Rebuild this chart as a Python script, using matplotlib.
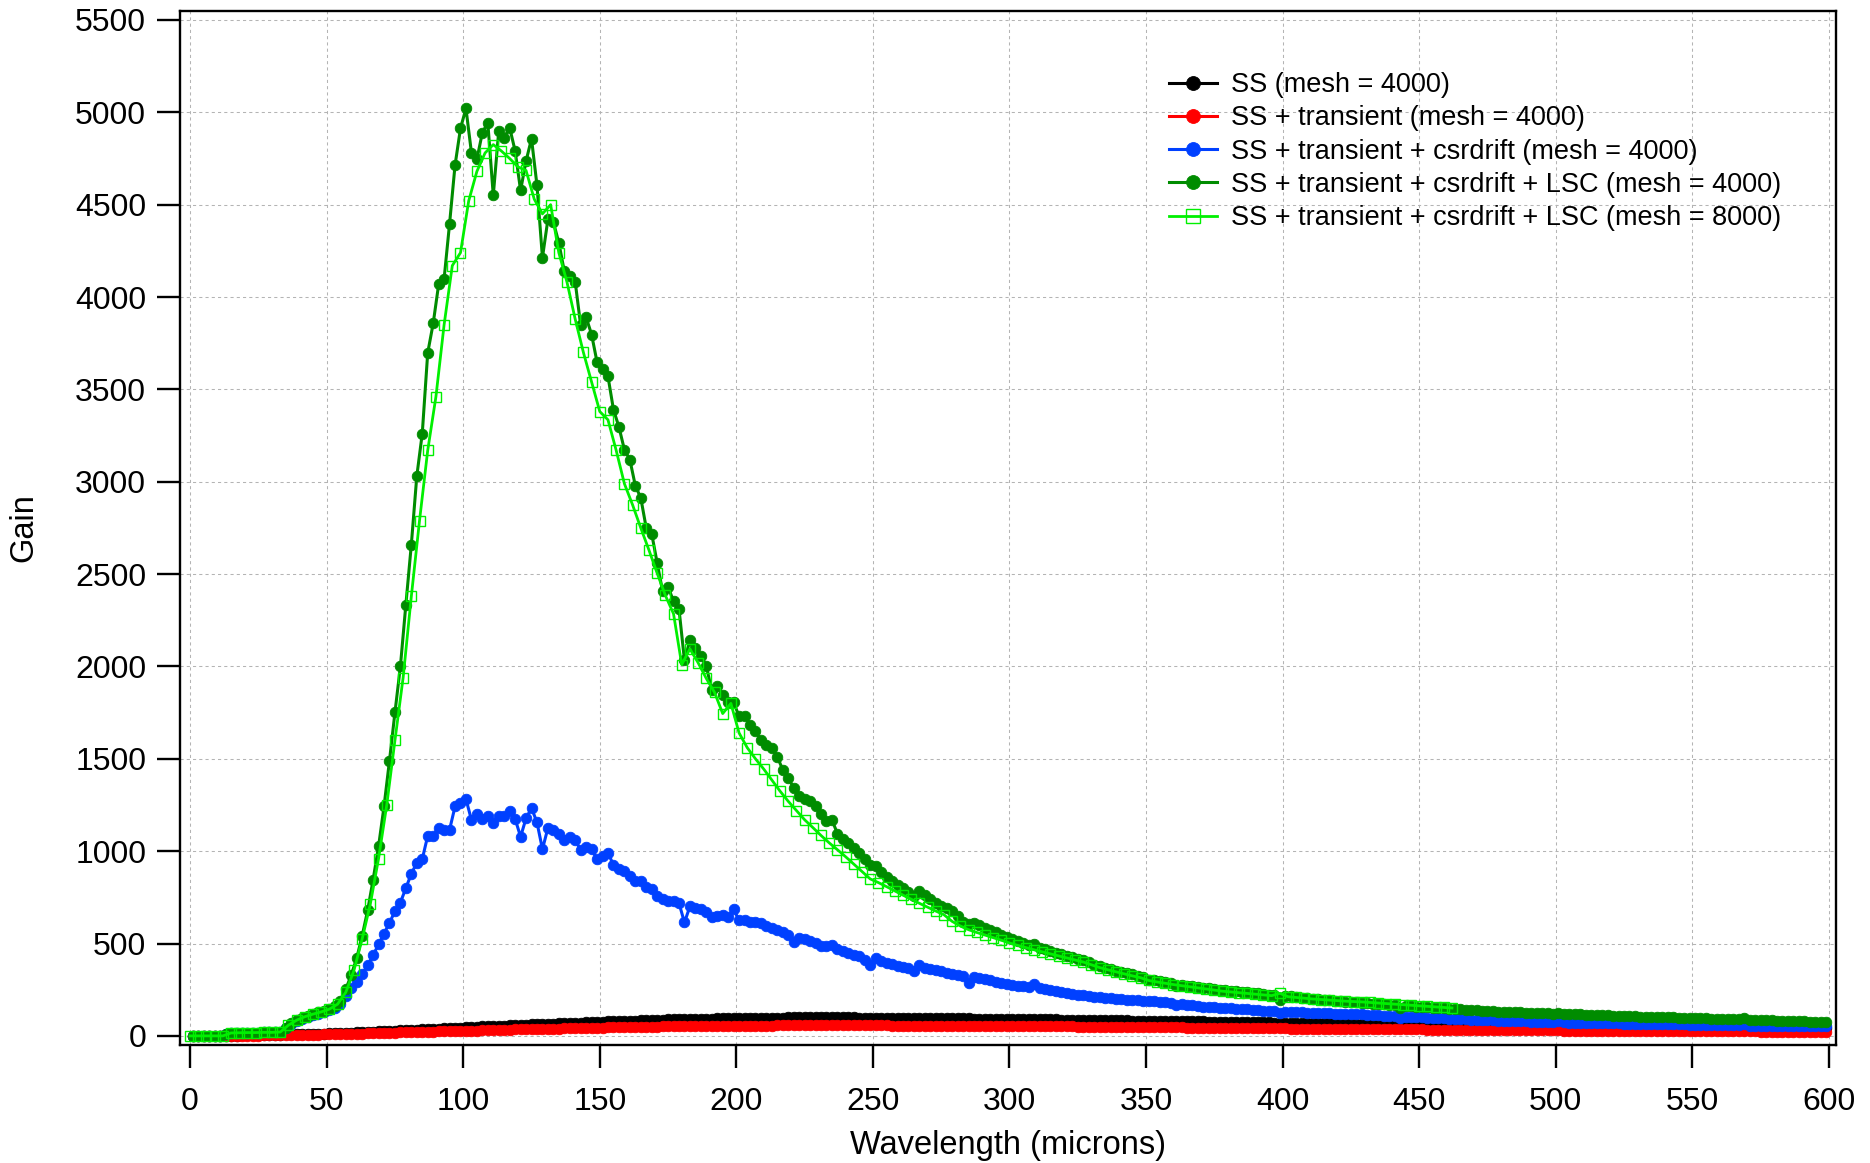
import numpy as np
import matplotlib
matplotlib.use("Agg")
import matplotlib.pyplot as plt

# wavelength samples (microns): mesh 4000 runs every 2 um, mesh 8000 run every 3 um
wl_4000 = np.arange(1, 600, 2)
wl_8000 = np.arange(0, 463, 3)

gain_ss = [
    0, 0, 0, 0, 0, 0, 0, 1, 2, 3,
    3, 4, 4, 5, 5, 6, 7, 8, 8, 9,
    10, 11, 11, 12, 13, 14, 15, 16, 17, 18,
    20, 21, 22, 23, 25, 26, 27, 29, 30, 31,
    33, 34, 35, 37, 38, 40, 41, 42, 44, 45,
    47, 48, 49, 51, 52, 53, 55, 56, 57, 58,
    60, 61, 62, 63, 64, 66, 67, 68, 69, 70,
    71, 72, 73, 75, 76, 77, 78, 79, 80, 81,
    82, 83, 84, 85, 86, 87, 88, 89, 89, 90,
    91, 92, 92, 93, 94, 94, 95, 95, 96, 96,
    97, 97, 98, 98, 98, 99, 99, 99, 99, 100,
    100, 100, 100, 100, 100, 100, 100, 100, 100, 100,
    100, 100, 99, 99, 99, 99, 99, 99, 98, 98,
    98, 98, 98, 97, 97, 97, 97, 96, 96, 96,
    95, 95, 95, 94, 94, 94, 93, 93, 93, 92,
    92, 92, 91, 91, 90, 90, 90, 89, 89, 88,
    88, 88, 87, 87, 86, 86, 86, 85, 85, 84,
    84, 84, 83, 83, 82, 82, 81, 81, 81, 80,
    80, 79, 79, 78, 78, 78, 77, 77, 76, 76,
    76, 75, 75, 74, 74, 74, 73, 73, 72, 72,
    72, 71, 71, 70, 70, 70, 69, 69, 69, 68,
    68, 68, 67, 67, 67, 66, 66, 66, 65, 65,
    65, 64, 64, 64, 63, 63, 63, 62, 62, 62,
    62, 61, 61, 61, 60, 60, 60, 59, 59, 59,
    59, 58, 58, 58, 58, 57, 57, 57, 57, 56,
    56, 56, 56, 55, 55, 55, 55, 54, 54, 54,
    54, 53, 53, 53, 53, 52, 52, 52, 52, 51,
    51, 51, 51, 51, 50, 50, 50, 50, 49, 49,
    49, 49, 49, 48, 48, 48, 48, 48, 47, 47,
    47, 47, 47, 46, 46, 46, 46, 46, 45, 45,
]

gain_transient = [
    0, 0, 0, 0, 0, 0, 0, 0, 0, 1,
    1, 2, 2, 3, 3, 4, 4, 5, 5, 6,
    6, 6, 7, 7, 8, 8, 9, 10, 11, 11,
    12, 13, 14, 15, 15, 16, 17, 18, 19, 20,
    20, 21, 22, 22, 23, 24, 25, 26, 26, 27,
    28, 29, 29, 30, 31, 32, 32, 33, 34, 35,
    35, 36, 37, 38, 38, 39, 40, 40, 41, 42,
    42, 43, 43, 44, 45, 45, 46, 46, 47, 47,
    48, 48, 49, 49, 50, 50, 51, 51, 51, 52,
    52, 52, 53, 53, 53, 54, 54, 54, 55, 55,
    55, 55, 56, 56, 56, 56, 56, 57, 57, 57,
    57, 57, 57, 57, 57, 57, 57, 57, 57, 57,
    57, 57, 57, 57, 57, 57, 57, 57, 56, 56,
    56, 56, 56, 56, 56, 55, 55, 55, 55, 55,
    55, 55, 54, 54, 54, 54, 54, 54, 54, 54,
    53, 53, 53, 53, 52, 52, 52, 52, 51, 51,
    51, 51, 50, 50, 50, 50, 49, 49, 49, 49,
    48, 48, 48, 48, 47, 47, 47, 47, 46, 46,
    46, 46, 45, 45, 45, 44, 44, 44, 44, 43,
    43, 43, 43, 42, 42, 42, 42, 41, 41, 41,
    41, 40, 40, 40, 40, 39, 39, 39, 39, 38,
    38, 38, 38, 37, 37, 37, 37, 36, 36, 36,
    36, 35, 35, 35, 35, 35, 34, 34, 34, 34,
    34, 33, 33, 33, 33, 33, 32, 32, 32, 32,
    32, 31, 31, 31, 31, 31, 30, 30, 30, 30,
    30, 29, 29, 29, 29, 29, 29, 28, 28, 28,
    28, 28, 28, 27, 27, 27, 27, 27, 27, 26,
    26, 26, 26, 26, 26, 25, 25, 25, 25, 25,
    25, 24, 24, 24, 24, 24, 24, 23, 23, 23,
    23, 23, 23, 23, 22, 22, 22, 22, 22, 22,
]

gain_csrdrift = [
    0, 0, 0, 0, 0, 0, 8, 14, 16, 17,
    17, 18, 18, 19, 19, 20, 22, 42, 65, 82,
    93, 103, 112, 121, 130, 140, 152, 175, 215, 262,
    294, 335, 382, 437, 495, 553, 612, 675, 722, 800,
    878, 937, 957, 1083, 1083, 1125, 1116, 1116, 1242, 1262,
    1282, 1170, 1200, 1176, 1190, 1152, 1188, 1188, 1219, 1175,
    1078, 1178, 1234, 1156, 1011, 1125, 1114, 1094, 1062, 1075,
    1060, 1006, 1022, 1010, 955, 975, 990, 926, 903, 895,
    867, 836, 836, 806, 795, 755, 741, 733, 728, 719,
    614, 701, 692, 686, 673, 646, 650, 655, 644, 686,
    625, 628, 619, 614, 610, 596, 583, 574, 560, 547,
    511, 529, 524, 516, 502, 488, 484, 493, 470, 457,
    448, 439, 430, 412, 385, 421, 408, 397, 390, 379,
    372, 365, 350, 382, 370, 362, 355, 349, 343, 337,
    331, 323, 284, 318, 312, 306, 300, 294, 288, 280,
    276, 272, 268, 264, 280, 258, 252, 247, 242, 237,
    232, 228, 224, 220, 215, 210, 208, 205, 203, 201,
    199, 197, 195, 193, 191, 189, 187, 185, 183, 180,
    166, 172, 168, 165, 162, 159, 157, 155, 153, 151,
    149, 147, 145, 143, 141, 139, 137, 135, 133, 122,
    130, 129, 128, 127, 126, 125, 124, 123, 122, 121,
    120, 119, 118, 117, 116, 115, 113, 112, 110, 109,
    107, 95, 104, 103, 101, 100, 99, 97, 96, 95,
    93, 92, 91, 90, 88, 87, 86, 85, 84, 83,
    82, 81, 80, 79, 78, 77, 77, 76, 75, 74,
    78, 73, 72, 72, 71, 71, 70, 70, 69, 69,
    68, 68, 67, 67, 66, 66, 65, 65, 64, 64,
    63, 63, 62, 62, 61, 61, 60, 60, 59, 59,
    58, 58, 57, 57, 64, 56, 56, 55, 55, 55,
    54, 54, 54, 53, 53, 53, 52, 52, 52, 51,
]

gain_lsc_4000 = [
    0, 0, 0, 0, 0, 0, 8, 14, 16, 17,
    17, 18, 18, 19, 19, 20, 22, 45, 72, 88,
    98, 108, 118, 128, 137, 146, 162, 188, 252, 330,
    421, 542, 679, 845, 1026, 1242, 1490, 1751, 2001, 2335,
    2660, 3030, 3261, 3698, 3857, 4068, 4099, 4397, 4713, 4913,
    5021, 4782, 4745, 4890, 4944, 4550, 4899, 4863, 4917, 4791,
    4577, 4736, 4857, 4605, 4213, 4420, 4406, 4294, 4140, 4115,
    4082, 3846, 3890, 3797, 3647, 3608, 3570, 3391, 3297, 3174,
    3120, 2979, 2913, 2750, 2719, 2561, 2407, 2431, 2353, 2311,
    2033, 2141, 2100, 2055, 2001, 1871, 1892, 1847, 1808, 1806,
    1730, 1730, 1685, 1648, 1603, 1576, 1558, 1510, 1441, 1396,
    1342, 1300, 1285, 1272, 1245, 1200, 1165, 1170, 1095, 1065,
    1045, 1015, 990, 955, 925, 918, 885, 862, 840, 818,
    800, 780, 757, 785, 762, 740, 722, 705, 690, 676,
    650, 615, 605, 612, 598, 585, 572, 560, 548, 536,
    522, 512, 502, 492, 496, 478, 468, 459, 450, 441,
    433, 425, 417, 409, 398, 384, 376, 368, 361, 354,
    347, 340, 333, 326, 318, 305, 300, 296, 291, 286,
    272, 276, 272, 268, 264, 260, 257, 254, 251, 248,
    245, 242, 239, 236, 233, 230, 227, 224, 222, 196,
    218, 214, 211, 207, 204, 201, 198, 195, 192, 190,
    187, 185, 183, 181, 179, 177, 175, 173, 171, 169,
    167, 150, 163, 161, 159, 157, 155, 153, 151, 149,
    147, 145, 143, 141, 140, 138, 137, 135, 134, 132,
    131, 130, 128, 127, 126, 125, 124, 123, 122, 121,
    124, 119, 118, 117, 116, 115, 114, 113, 112, 111,
    110, 109, 108, 107, 106, 105, 104, 103, 103, 102,
    101, 100, 99, 98, 97, 96, 96, 95, 94, 93,
    92, 91, 90, 90, 98, 88, 87, 86, 85, 84,
    83, 82, 81, 80, 79, 78, 77, 76, 75, 73,
]

gain_lsc_8000 = [
    0, 0, 0, 0, 0, 16, 17, 18, 18, 19,
    19, 21, 58, 85, 104, 118, 130, 145, 172, 236,
    355, 525, 715, 960, 1250, 1600, 1940, 2380, 2790, 3170,
    3460, 3850, 4170, 4240, 4520, 4680, 4780, 4825, 4790, 4750,
    4705, 4685, 4530, 4450, 4500, 4240, 4080, 3880, 3700, 3540,
    3380, 3335, 3170, 2990, 2875, 2750, 2630, 2505, 2385, 2285,
    2010, 2095, 2020, 1935, 1860, 1745, 1800, 1640, 1560, 1500,
    1445, 1385, 1325, 1270, 1220, 1170, 1128, 1085, 1045, 1008,
    970, 930, 890, 850, 830, 808, 785, 762, 740, 718,
    697, 676, 656, 620, 595, 575, 560, 546, 532, 518,
    503, 490, 478, 466, 455, 444, 433, 422, 411, 400,
    385, 370, 358, 347, 336, 325, 315, 300, 292, 285,
    278, 272, 266, 260, 254, 248, 242, 238, 234, 230,
    226, 222, 218, 231, 212, 208, 204, 200, 197, 194,
    191, 188, 186, 184, 181, 178, 175, 172, 169, 166,
    163, 160, 157, 154, 151,
]

labels = [
    "SS (mesh = 4000)",
    "SS + transient (mesh = 4000)",
    "SS + transient + csrdrift (mesh = 4000)",
    "SS + transient + csrdrift + LSC (mesh = 4000)",
    "SS + transient + csrdrift + LSC (mesh = 8000)",
]


def plot_gain():
    plt.rcParams["font.family"] = ["Liberation Sans", "DejaVu Sans"]

    fig = plt.figure(figsize=(18.7, 11.63), dpi=100)
    ax = fig.add_axes([0.0964, 0.1015, 0.8854, 0.8893])

    series = [
        (wl_4000, gain_ss, "#000000", "o", None),
        (wl_4000, gain_transient, "#ff0000", "o", None),
        (wl_4000, gain_csrdrift, "#0040ff", "o", None),
        (wl_4000, gain_lsc_4000, "#008c00", "o", None),
        (wl_8000, gain_lsc_8000, "#00f000", "s", "none"),
    ]

    for (x, y, color, marker, face), label in zip(series, labels):
        if face == "none":
            ax.plot(x, y, color=color, lw=2.0, marker=marker, ms=7.2,
                    mfc="none", mec=color, mew=1.0, label=label)
        else:
            ax.plot(x, y, color=color, lw=2.2, marker=marker, ms=7.6,
                    mfc=color, mec=color, mew=0.6, label=label)

    ax.set_xlim(-3.6, 602.6)
    ax.set_ylim(-49, 5550)
    ax.set_xticks(np.arange(0, 601, 50))
    ax.set_yticks(np.arange(0, 5501, 500))

    ax.grid(True, color="#b4b4b4", linestyle=(0, (3, 3)), linewidth=0.75)
    ax.set_axisbelow(True)

    for s in ax.spines.values():
        s.set_linewidth(1.7)
    ax.tick_params(axis="both", direction="out", length=16.5, width=1.7, labelsize=23)
    ax.tick_params(axis="x", pad=14)
    ax.tick_params(axis="y", pad=8)

    ax.set_xlabel("Wavelength (microns)", fontsize=23.5)
    ax.set_ylabel("Gain", fontsize=23.5)
    ax.xaxis.set_label_coords(0.5, -0.082)
    ax.yaxis.set_label_coords(-0.085, 0.5)

    leg = ax.legend(loc="upper left", bbox_to_anchor=(1169 / 1870, 1 - 72 / 1163),
                    bbox_transform=fig.transFigure, frameon=False, fontsize=19.5,
                    handlelength=1.78, handletextpad=0.5, labelspacing=0.27,
                    borderpad=0, borderaxespad=0)
    for h in leg.legend_handles:
        h.set_markersize(10)

    fig.savefig("out.png", dpi=100)


if __name__ == "__main__":
    plot_gain()
